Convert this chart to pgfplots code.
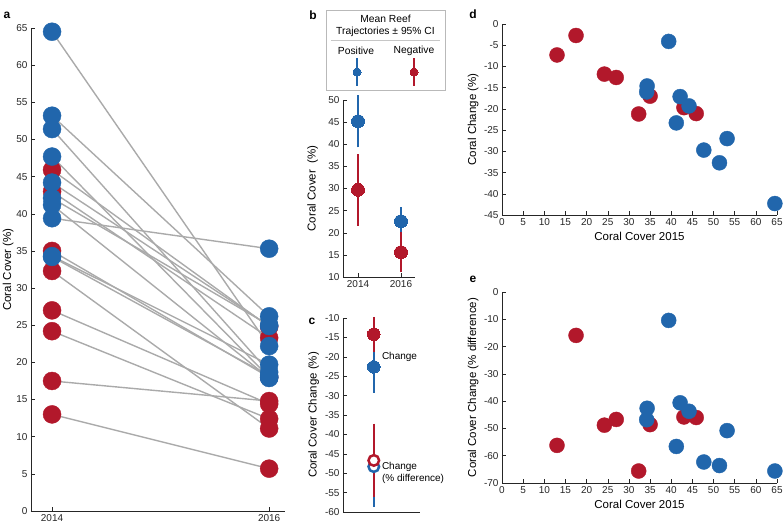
\documentclass[border=0pt]{standalone}
\usepackage{pgfplots}
\pgfplotsset{compat=1.18}
\usepackage{pgfplotstable}
\usepackage{fontspec}
\setmainfont{Liberation Sans}

\definecolor{pblue}{RGB}{33,102,172}
\definecolor{pred}{RGB}{178,24,43}
\definecolor{axc}{RGB}{38,38,38}
\definecolor{lgray}{RGB}{170,170,170}

% reefs with positive trajectory: cover 2014, cover 2016, change, change (% diff)
\pgfplotstableread{
c14 c16 chg pct
64.5 22.2 -42.3 -65.6
53.2 26.2 -27.0 -50.8
51.4 18.7 -32.7 -63.6
47.7 18.0 -29.7 -62.3
44.2 24.9 -19.3 -43.7
42.1 25.0 -17.1 -40.6
41.2 17.9 -23.3 -56.6
39.4 35.3 -4.1 -10.4
34.3 19.7 -14.6 -42.6
34.2 18.2 -16.0 -46.8
}\pos
% reefs with negative trajectory
\pgfplotstableread{
c14 c16 chg pct
13.0 5.7 -7.3 -56.2
17.5 14.8 -2.7 -15.9
24.2 12.4 -11.8 -48.8
27.0 14.4 -12.6 -46.7
32.3 11.1 -21.2 -65.6
35.0 18.0 -17.0 -48.6
43.0 23.3 -19.7 -45.8
45.9 24.8 -21.1 -46.0
}\neg

\pgfplotsset{
  mstyle/.style={
    scale only axis, anchor=south west, clip=false,
    axis lines=left, axis line style={-, axc, line width=0.5pt},
    tick align=inside, major tick length=4pt,
    tick style={axc, line width=0.5pt},
    ticklabel style={font=\fontsize{10}{12}\selectfont, text=axc},
    label style={font=\fontsize{11.5}{13}\selectfont, text=black},
    /pgf/number format/assume math mode=true,
  },
  % 95% CI segment, drawn before its dot
  ci/.style={#1, line width=2.5pt, no marks},
  fdot/.style={only marks, mark=*, color=#1,
    mark options={fill=#1, draw=#1, line width=0pt}},
  rdot/.style={only marks, mark=*, color=#1,
    mark options={fill=white, draw=#1, line width=2.5pt}},
}

\begin{document}
\begin{tikzpicture}
\useasboundingbox (0pt,0pt) rectangle (784pt,-528pt);

% ---------- a ----------
\begin{axis}[mstyle, at={(31pt,-511pt)}, width=254pt, height=483pt,
    xmin=0.903, xmax=2.073, ymin=0, ymax=65,
    xtick={1,2}, xticklabels={2014,2016},
    ytick={0,5,...,65},
    ylabel={Coral Cover (\%)},
    ylabel style={at={(axis description cs:-0.09,0.5)}, anchor=center}]
\addplot[lgray, line width=1.4pt, no marks, quiver={u=1, v=\thisrow{c16}-\thisrow{c14}}]
  table[x expr=1, y=c14] {\neg};
\addplot[lgray, line width=1.4pt, no marks, quiver={u=1, v=\thisrow{c16}-\thisrow{c14}}]
  table[x expr=1, y=c14] {\pos};
\addplot[only marks, mark=*, mark size=9pt, pred] table[x expr=1, y=c14] {\neg};
\addplot[only marks, mark=*, mark size=9pt, pred] table[x expr=2, y=c16] {\neg};
\addplot[only marks, mark=*, mark size=9pt, pblue] table[x expr=1, y=c14] {\pos};
\addplot[only marks, mark=*, mark size=9pt, pblue] table[x expr=2, y=c16] {\pos};
\end{axis}

% ---------- b ----------
\begin{axis}[mstyle, at={(343pt,-277pt)}, width=72pt, height=177pt,
    xmin=0.651, xmax=2.326, ymin=10, ymax=50,
    xtick={1,2}, xticklabels={2014,2016},
    ytick={10,15,...,50},
    ylabel={Coral Cover\ \ (\%)},
    ylabel style={at={(axis description cs:-0.42,0.5)}, anchor=center}]
\addplot[ci=pblue] coordinates {(1,39.3) (1,51.1)};
\addplot[ci=pblue] coordinates {(2,19.3) (2,25.9)};
\addplot[fdot=pblue, mark size=6.5pt] coordinates {(1,45.2) (2,22.6)};
\addplot[ci=pred] coordinates {(1,21.6) (1,37.8)};
\addplot[ci=pred] coordinates {(2,11.1) (2,20.1)};
\addplot[fdot=pred, mark size=6.5pt] coordinates {(1,29.7) (2,15.6)};
\end{axis}

% legend box of b
\draw[gray!55, line width=0.5pt] (326pt,-10pt) rectangle (445pt,-90pt);
\draw[gray!45, line width=0.5pt] (331pt,-40pt) -- (440pt,-40pt);
\begin{scope}[font=\fontsize{10.3}{12}\selectfont]
\node at (385.5pt,-19pt) {Mean Reef};
\node at (385.5pt,-32pt) {Trajectories ± 95\% CI};
\node at (356pt,-51pt) {Positive};
\node at (414pt,-51pt) {Negative};
\end{scope}
\begin{axis}[hide axis, scale only axis, anchor=south west, clip=false,
    at={(326pt,-90pt)}, width=119pt, height=80pt,
    xmin=326, xmax=445, ymin=-90, ymax=-10]
\addplot[ci=pblue] coordinates {(357,-58) (357,-86)};
\addplot[fdot=pblue, mark size=4pt] coordinates {(357,-72)};
\addplot[ci=pred] coordinates {(414,-58) (414,-86)};
\addplot[fdot=pred, mark size=4pt] coordinates {(414,-72)};
\end{axis}

% ---------- c ----------
\begin{axis}[mstyle, at={(343pt,-512pt)}, width=77pt, height=194pt,
    xmin=0, xmax=2.5, ymin=-60, ymax=-10,
    xtick=\empty, ytick={-60,-55,...,-10},
    ylabel={Coral Cover Change (\%)},
    ylabel style={at={(axis description cs:-0.38,0.5)}, anchor=center}]
\addplot[ci=pblue] coordinates {(1,-16.0) (1,-29.2)};
\addplot[ci=pblue] coordinates {(1,-37.9) (1,-58.7)};
\addplot[fdot=pblue, mark size=6.3pt] coordinates {(1,-22.6)};
\addplot[rdot=pblue, mark size=5.3pt] coordinates {(1,-48.3)};
\addplot[ci=pred] coordinates {(1,-9.7) (1,-18.7)};
\addplot[ci=pred] coordinates {(1,-37.2) (1,-56.2)};
\addplot[fdot=pred, mark size=6.3pt] coordinates {(1,-14.2)};
\addplot[rdot=pred, mark size=5.3pt] coordinates {(1,-46.7)};
\node[anchor=west, font=\fontsize{10}{12}\selectfont, inner sep=0pt] at (axis cs:1.26,-20) {Change};
\node[anchor=west, font=\fontsize{10}{12}\selectfont, inner sep=0pt, align=left] at (axis cs:1.26,-50)
  {Change\\(\% difference)};
\end{axis}

% ---------- d ----------
\begin{axis}[mstyle, at={(502pt,-215pt)}, width=275pt, height=191pt,
    xmin=0, xmax=65, ymin=-45, ymax=0,
    xtick={0,5,...,65}, ytick={-45,-40,...,0},
    xlabel={Coral Cover 2015}, ylabel={Coral Change (\%)},
    ylabel style={at={(axis description cs:-0.105,0.5)}, anchor=center}]
\addplot[only marks, mark=*, mark size=7.5pt, pred] table[x=c14, y=chg] {\neg};
\addplot[only marks, mark=*, mark size=7.5pt, pblue] table[x=c14, y=chg] {\pos};
\end{axis}

% ---------- e ----------
\begin{axis}[mstyle, at={(502pt,-483pt)}, width=275pt, height=191pt,
    xmin=0, xmax=65, ymin=-70, ymax=0,
    xtick={0,5,...,65}, ytick={-70,-60,...,0},
    xlabel={Coral Cover 2015}, ylabel={Coral Cover Change (\% difference)},
    ylabel style={at={(axis description cs:-0.105,0.5)}, anchor=center}]
\addplot[only marks, mark=*, mark size=7.5pt, pred] table[x=c14, y=pct] {\neg};
\addplot[only marks, mark=*, mark size=7.5pt, pblue] table[x=c14, y=pct] {\pos};
\end{axis}

% panel letters
\begin{scope}[font=\fontsize{12}{14}\selectfont\bfseries]
\node at (7pt,-15pt) {a};
\node at (313pt,-15pt) {b};
\node at (312pt,-321pt) {c};
\node at (473pt,-14pt) {d};
\node at (473pt,-279pt) {e};
\end{scope}
\end{tikzpicture}
\end{document}
